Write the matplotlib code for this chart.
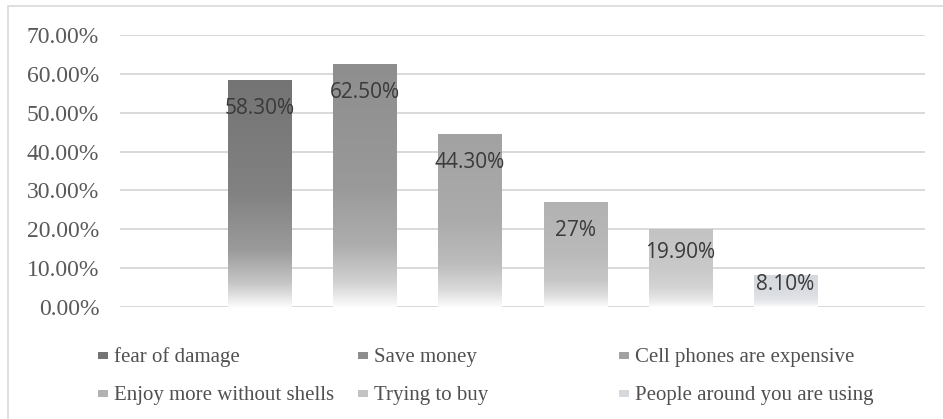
import numpy as np
import matplotlib.pyplot as plt
from matplotlib.colors import to_rgb
from matplotlib.patches import Rectangle

# data
reasons = ['fear of damage', 'Save money', 'Cell phones are expensive',
           'Enjoy more without shells', 'Trying to buy', 'People around you are using']
shares = [0.583, 0.625, 0.443, 0.27, 0.199, 0.081]
value_labels = ['58.30%', '62.50%', '44.30%', '27%', '19.90%', '8.10%']
yticks = [0.0, 0.1, 0.2, 0.3, 0.4, 0.5, 0.6, 0.7]

bar_colors = ['#747474', '#8e8e8e', '#a2a2a2', '#b2b2b2', '#c3c3c3', '#d5d8dd']

W, H = 943, 419
fig = plt.figure(figsize=(W / 100, H / 100), dpi=100)
fig.patch.set_facecolor('white')

# outer frame (only top/left visible in the crop)
fig.patches.append(Rectangle((8 / W, -0.05), 1.1, (H - 6) / H + 0.05,
                             transform=fig.transFigure, fill=False,
                             edgecolor='#d9d9d9', lw=1.2))

ax = fig.add_axes([120 / W, (H - 307) / H, 805 / W, 272 / H])
for s in ax.spines.values():
    s.set_visible(False)
ax.set_yticks(yticks)
ax.set_yticklabels(['%.2f%%' % (v * 100) for v in yticks],
                   family='Liberation Serif', fontsize=17, color='#595959')
ax.tick_params(axis='y', length=0, pad=15)
ax.set_xticks([])
for v in yticks:
    ax.axhline(v, color='#d9d9d9', lw=1.4, zorder=0)


def gradient(base, n=300):
    # white at the bottom, base colour at the top
    t = np.linspace(0, 1, n)
    w = np.interp(t, [0, 0.1, 0.25, 0.5, 1.0], [0.97, 0.6, 0.28, 0.1, 0.0])
    b = np.array(to_rgb(base))
    rgb = b[None, :] * (1 - w[:, None]) + w[:, None]
    return rgb[:, None, :]


width = 0.6
px_per_unit = 272 / 0.7
for i, (v, c, lab) in enumerate(zip(shares, bar_colors, value_labels)):
    ax.bar(i, v, width=width, color='none', zorder=2)
    ax.imshow(gradient(c), extent=(i - width / 2, i + width / 2, 0, v),
              origin='lower', aspect='auto', zorder=2)
    off_px = min(28, 0.3 * v * px_per_unit)
    ax.annotate(lab, (i, v), xytext=(0, -off_px * 0.72), textcoords='offset points',
                ha='center', va='center', fontsize=15, family='Open Sans',
                color='#3a3a3a', zorder=3)
ax.set_xlim(-1.333, 6.333)
ax.set_ylim(0, 0.7)

# legend, 3 columns x 2 rows
col_x = [98, 358, 619]
row_y = [357, 395]
for i, (name, c) in enumerate(zip(reasons, bar_colors)):
    x0 = col_x[i % 3]
    y0 = row_y[i // 3]
    fig.patches.append(Rectangle((x0 / W, (H - y0 - 2) / H), 10 / W, 7 / H,
                                 transform=fig.transFigure, color=c, lw=0))
    fig.text((x0 + 16) / W, (H - y0) / H, name, family='Liberation Serif',
             fontsize=15, color='#505050', ha='left', va='center')

fig.savefig('out.png', dpi=100)
